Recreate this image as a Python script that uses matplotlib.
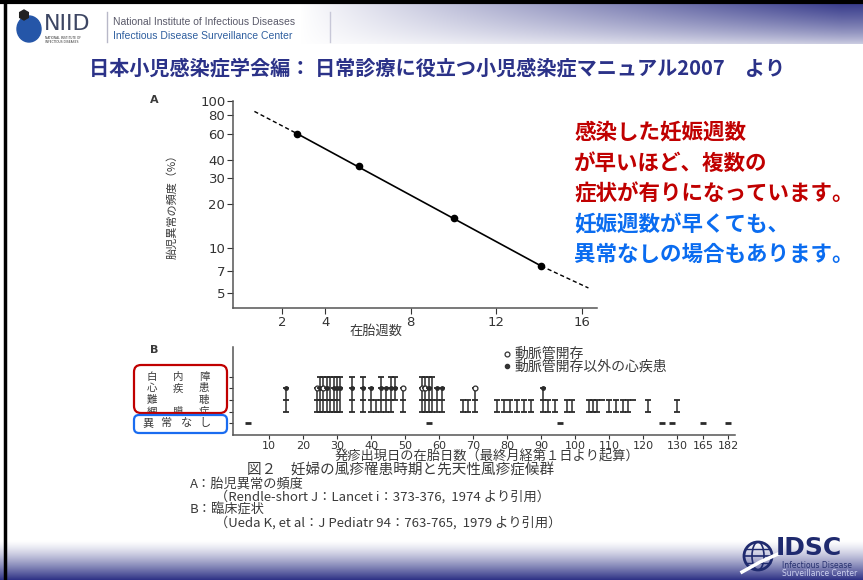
import numpy as np
import matplotlib.pyplot as plt
from matplotlib.patches import FancyBboxPatch, Circle, Ellipse, RegularPolygon

plt.rcParams['font.family'] = ['Noto Sans CJK JP', 'DejaVu Sans']

W, H = 863, 580

# --- panel A: frequency of fetal anomaly vs gestational week ---
weeks = [2.7, 5.6, 10.0, 14.1]
freq = [60, 36, 16, 7.6]
fit_weeks = [0.7, 2.7, 14.1, 16.3]
fit_freq = [85, 60, 7.6, 5.4]
a_yticks = [5, 7, 10, 20, 30, 40, 60, 80, 100]
a_xticks = [2, 4, 8, 12, 16]

# --- panel B: clinical signs vs day of rash (rows: 0=none,1=retina,2=ear,3=heart,4=cataract) ---
case_days = [15, 24, 25, 26, 27, 28, 29, 30, 31, 34.5, 37.5, 40, 41.5, 43, 44.5, 46, 47,
             49.5, 55, 56, 57, 58, 59.5, 61, 67, 68.5, 70.5, 77, 79, 81, 83, 85, 87,
             90.5, 92, 94, 97.5, 99, 104, 105.2, 106.4, 108, 110, 112, 114, 115.5, 117,
             121.5, 130.5]
case_rows = [[1, 2, 3], [1, 2, 3], [1, 2, 3, 4], [1, 2, 3, 4], [1, 2, 3, 4], [1, 2, 4],
             [1, 2, 3, 4], [1, 2, 3, 4], [1, 3, 4], [1, 2, 3, 4], [1, 2, 3, 4], [1, 2, 3],
             [1, 2], [1, 2, 3, 4], [1, 2, 3], [1, 2, 3, 4], [2, 3, 4],
             [1, 2, 3], [1, 2, 3, 4], [1, 2, 3, 4], [1, 2, 3, 4], [1, 2, 4], [1, 2, 3], [1, 2, 3],
             [1, 2], [1, 2], [1, 2, 3], [1, 2], [1, 2], [1, 2], [1, 2], [1, 2], [1, 2],
             [1, 2, 3], [1, 2], [1, 2], [1, 2], [1, 2], [1, 2], [1, 2], [1, 2], [2],
             [1, 2], [1, 2], [1, 2], [1, 2], [2], [1, 2], [1, 2]]
pda_days = [24, 26, 49.5, 55, 56, 70.5]
normal_days = [3.8, 57, 95.6, 125.6, 128.5, 165, 182]
b_xticks = [10, 20, 30, 40, 50, 60, 70, 80, 90, 100, 110, 120, 130, 165, 182]
day_knots = [-10, 130, 165, 182, 200]
pos_knots = [-10, 130, 137.65, 145, 152.8]

title = '日本小児感染症学会編： 日常診療に役立つ小児感染症マニュアル2007　より'
red_lines = ['感染した妊娠週数', 'が早いほど、複数の', '症状が有りになっています。']
blue_lines = ['妊娠週数が早くても、', '異常なしの場合もあります。']

gray = '#3a3a3a'
navy = '#2b3288'


def frac(l, t, r, b):
    return [l / W, 1 - b / H, (r - l) / W, (b - t) / H]


fig = plt.figure(figsize=(W / 100, H / 100), dpi=100)
bg = fig.add_axes([0, 0, 1, 1])

# header gradient
xx, yy = np.meshgrid(np.arange(W), np.arange(44))
w = np.clip((xx - 300) / 540, 0, 1) ** 0.9 * np.clip(1 - yy / 48, 0, 1) ** 0.6
dark = np.array([48, 52, 135]) / 255
bg.imshow(1 - w[..., None] * (1 - dark), extent=(0, W, 44, 0), aspect='auto', zorder=0)
# footer gradient
yy2 = np.arange(40)[:, None] * np.ones((1, W))
w2 = (yy2 / 39) ** 1.3
bg.imshow(1 - w2[..., None] * (1 - dark), extent=(0, W, 580, 540), aspect='auto', zorder=0)
bg.plot([0, W], [1.5, 1.5], color='black', lw=3)
bg.plot([5, 5], [0, H], color='black', lw=2.5)

# NIID logo
bg.add_patch(Ellipse((29, 29), 24, 26, color='#2556a8'))
bg.add_patch(RegularPolygon((24, 15), 6, radius=5, color='#222'))
bg.text(44, 24, 'NIID', fontsize=16, family='DejaVu Sans', color='#3d4663', va='center')
bg.text(45, 40, 'NATIONAL INSTITUTE OF\nINFECTIOUS DISEASES', fontsize=2.2, family='DejaVu Sans',
        color='#333', va='center', linespacing=1.0)
bg.plot([107, 107], [12, 42], color='#b8b8c8', lw=1)
bg.plot([330, 330], [12, 42], color='#c8c8d8', lw=1)
bg.text(113, 22, 'National Institute of Infectious Diseases', fontsize=7.5,
        family='Liberation Sans', color='#5a5a6a', va='center')
bg.text(113, 36, 'Infectious Disease Surveillance Center', fontsize=7.5,
        family='Liberation Sans', color='#2f5f9f', va='center')

# IDSC logo
bg.add_patch(Circle((758, 556), 14, fill=False, ec='#1f2a6e', lw=2))
bg.add_patch(Ellipse((758, 556), 12, 28, fill=False, ec='#1f2a6e', lw=1.2))
bg.plot([744, 772], [556, 556], color='#1f2a6e', lw=1.2)
bg.plot([746, 770], [549, 549], color='#1f2a6e', lw=1)
bg.plot([746, 770], [563, 563], color='#1f2a6e', lw=1)
bg.plot([742, 760, 778], [572, 562, 554], color='white', lw=2.5)
bg.text(776, 548, 'IDSC', fontsize=18, weight='bold', family='DejaVu Sans', color='#1f2a6e', va='center')
bg.text(782, 566, 'Infectious Disease', fontsize=5.5, family='DejaVu Sans', color='#26306e', va='center')
bg.text(782, 574, 'Surveillance Center', fontsize=5.5, family='DejaVu Sans', color='#cfd3f0', va='center')

# title and comments
bg.text(437, 68, title, fontsize=14.5, weight='bold', color=navy, ha='center', va='center')
for i, s in enumerate(red_lines):
    bg.text(574, 132 + i * 31, s, fontsize=15.5, weight='bold', color='#c00000', va='center')
for i, s in enumerate(blue_lines):
    bg.text(574, 225 + i * 29, s, fontsize=15.5, weight='bold', color='#0a6cf0', va='center')

# scanned-figure texts
bg.text(150, 100, 'A', fontsize=8, weight='bold', color=gray, va='center', family='DejaVu Sans')
bg.text(150, 350, 'B', fontsize=8, weight='bold', color=gray, va='center', family='DejaVu Sans')
bg.text(172, 204, '胎児異常の頻度（%）', fontsize=8, rotation=90, color=gray, ha='center', va='center')
bg.text(376, 331, '在胎週数', fontsize=9.5, color=gray, ha='center', va='center')
bg.text(487, 457, '発疹出現日の在胎日数（最終月経第１日より起算）', fontsize=9.5, color=gray,
        ha='center', va='center')
bg.text(247, 470, '図２　妊婦の風疹罹患時期と先天性風疹症候群', fontsize=10.5, color=gray, va='center')
bg.text(190, 484, 'A：胎児異常の頻度', fontsize=9.5, color=gray, va='center')
bg.text(215, 497, '（Rendle-short J：Lancet i：373-376,  1974 より引用）', fontsize=9.5, color=gray, va='center')
bg.text(190, 510, 'B：臨床症状', fontsize=9.5, color=gray, va='center')
bg.text(215, 523, '（Ueda K, et al：J Pediatr 94：763-765,  1979 より引用）', fontsize=9.5, color=gray, va='center')

# row labels and boxes for panel B
row_y = [423, 411.5, 400, 388.5, 377]
label_chars = {4: ['白', '内', '障'], 3: ['心', '疾', '患'], 2: ['難', '', '聴'], 1: ['網', '膜', '症']}
for r, chars in label_chars.items():
    for cx, ch in zip([152, 178, 204], chars):
        bg.text(cx, row_y[r], ch, fontsize=7.5, color=gray, ha='center', va='center')
for cx, ch in zip([148, 166, 186, 205], '異常なし'):
    bg.text(cx, row_y[0], ch, fontsize=8, color=gray, ha='center', va='center')
bg.add_patch(FancyBboxPatch((134, 365), 93, 48, boxstyle='round,pad=0,rounding_size=7',
                            fill=False, ec='#c00000', lw=1.6, zorder=5))
bg.add_patch(FancyBboxPatch((134, 415), 93, 18, boxstyle='round,pad=0,rounding_size=5',
                            fill=False, ec='#1a6cf0', lw=1.6, zorder=5))

bg.set_xlim(0, W)
bg.set_ylim(H, 0)
bg.axis('off')

# ---- panel A ----
axA = fig.add_axes(frac(233, 101, 597, 308))
axA.set_facecolor('none')
axA.set_yscale('log')
axA.plot(fit_weeks[1:3], fit_freq[1:3], color='black', lw=1.2)
axA.plot(fit_weeks[:2], fit_freq[:2], color='black', lw=1.0, ls=(0, (3, 2)))
axA.plot(fit_weeks[2:], fit_freq[2:], color='black', lw=1.0, ls=(0, (3, 2)))
axA.plot(weeks, freq, 'o', color='black', ms=4.5)
axA.set_xlim(-0.3, 16.7)
axA.set_ylim(3.95, 100)
axA.set_yticks(a_yticks)
axA.set_yticklabels([str(v) for v in a_yticks])
axA.yaxis.set_minor_locator(plt.NullLocator())
axA.set_xticks(a_xticks)
for s in ['top', 'right']:
    axA.spines[s].set_visible(False)
for s in ['left', 'bottom']:
    axA.spines[s].set_color('#555')
    axA.spines[s].set_linewidth(1.1)
axA.tick_params(labelsize=9.5, colors='#333', length=4, width=0.8, pad=1.5, labelfontfamily='DejaVu Sans')

# ---- panel B ----
axB = fig.add_axes(frac(233, 347, 735, 435))
axB.set_facecolor('none')


def fwd(d):
    return np.interp(d, day_knots, pos_knots)


def inv(p):
    return np.interp(p, pos_knots, day_knots)


axB.set_xscale('function', functions=(fwd, inv))
for d, rows in zip(case_days, case_rows):
    axB.vlines(d, min(rows), max(rows), color='#2b2b2b', lw=1.1)
    axB.plot([d] * len(rows), rows, '_', color='#2b2b2b', ms=5, mew=1.3)
    if 3 in rows:
        if d in pda_days:
            axB.plot(d, 3, 'o', mfc='white', mec='#2b2b2b', ms=3.5, mew=0.9)
        else:
            axB.plot(d, 3, 'o', color='#2b2b2b', ms=2.5)
axB.plot(normal_days, [0] * len(normal_days), '_', color='#2b2b2b', ms=4, mew=2)
axB.set_xlim(-0.6, 186.7)
axB.set_ylim(-1.04, 6.6)
axB.set_xticks(b_xticks)
axB.set_xticklabels([str(v) for v in b_xticks])
axB.xaxis.set_minor_locator(plt.NullLocator())
axB.set_yticks([0, 1, 2, 3, 4])
axB.set_yticklabels([])
for s in ['top', 'right']:
    axB.spines[s].set_visible(False)
for s in ['left', 'bottom']:
    axB.spines[s].set_color('#555')
    axB.spines[s].set_linewidth(1.1)
axB.tick_params(labelsize=8, colors='#333', length=3, width=0.8, pad=1, labelfontfamily='DejaVu Sans')

# legend of panel B
axB.plot([0.545], [0.92], 'o', transform=axB.transAxes, mfc='white', mec='#333', ms=3.5, mew=0.9, clip_on=False)
axB.plot([0.545], [0.78], 'o', transform=axB.transAxes, color='#333', ms=3, clip_on=False)
axB.text(0.56, 0.92, '動脈管開存', transform=axB.transAxes, fontsize=10, color=gray, va='center')
axB.text(0.56, 0.78, '動脈管開存以外の心疾患', transform=axB.transAxes, fontsize=10, color=gray, va='center')

fig.savefig('out.png', dpi=100)
